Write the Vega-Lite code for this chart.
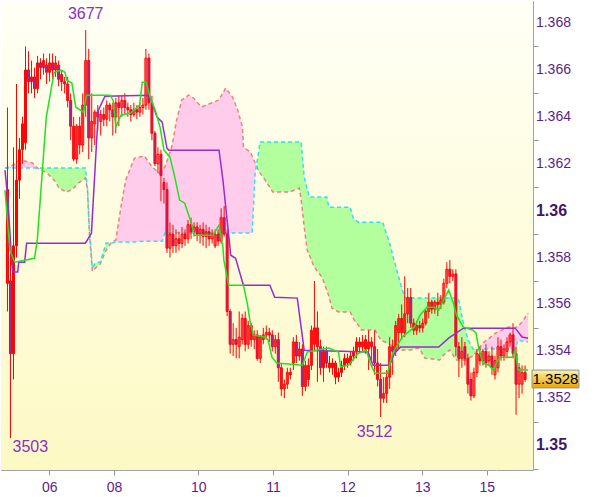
{
"$schema":"https://vega.github.io/schema/vega-lite/v6.json",
"width":532,"height":469,
"autosize":{"type":"none"},
"padding":{"left":1,"top":1,"right":67,"bottom":27},
"background":"#ffffff",
"config":{"view":{"stroke":"#9aa3ab","strokeWidth":1},"font":"Liberation Sans"},
"datasets":{
"candles":[
{"bar":0,"o":1.3609,"h":1.3644,"l":1.3557,"c":1.3569},
{"bar":1,"o":1.3570,"h":1.3583,"l":1.3503,"c":1.3539},
{"bar":2,"o":1.3539,"h":1.3627,"l":1.3528,"c":1.3585},
{"bar":3,"o":1.3585,"h":1.3654,"l":1.3580,"c":1.3613},
{"bar":4,"o":1.3613,"h":1.3631,"l":1.3605,"c":1.3626},
{"bar":5,"o":1.3626,"h":1.3640,"l":1.3620,"c":1.3637},
{"bar":6,"o":1.3629,"h":1.3670,"l":1.3626,"c":1.3660},
{"bar":7,"o":1.3660,"h":1.3668,"l":1.3650,"c":1.3655},
{"bar":8,"o":1.3655,"h":1.3664,"l":1.3650,"c":1.3657},
{"bar":9,"o":1.3657,"h":1.3661,"l":1.3648,"c":1.3652},
{"bar":10,"o":1.3652,"h":1.3666,"l":1.3650,"c":1.3663},
{"bar":11,"o":1.3663,"h":1.3665,"l":1.3656,"c":1.3661},
{"bar":12,"o":1.3661,"h":1.3667,"l":1.3658,"c":1.3664},
{"bar":13,"o":1.3662,"h":1.3665,"l":1.3654,"c":1.3659},
{"bar":14,"o":1.3659,"h":1.3667,"l":1.3655,"c":1.3663},
{"bar":15,"o":1.3663,"h":1.3667,"l":1.3656,"c":1.3660},
{"bar":16,"o":1.3660,"h":1.3666,"l":1.3657,"c":1.3663},
{"bar":17,"o":1.3662,"h":1.3664,"l":1.3653,"c":1.3656},
{"bar":18,"o":1.3658,"h":1.3660,"l":1.3651,"c":1.3655},
{"bar":19,"o":1.3655,"h":1.3657,"l":1.3650,"c":1.3654},
{"bar":20,"o":1.3654,"h":1.3657,"l":1.3644,"c":1.3647},
{"bar":21,"o":1.3647,"h":1.3650,"l":1.3630,"c":1.3636},
{"bar":22,"o":1.3636,"h":1.3640,"l":1.3621,"c":1.3622},
{"bar":23,"o":1.3622,"h":1.3637,"l":1.3620,"c":1.3636},
{"bar":24,"o":1.3636,"h":1.3640,"l":1.3624,"c":1.3628},
{"bar":25,"o":1.3628,"h":1.3650,"l":1.3625,"c":1.3645},
{"bar":26,"o":1.3645,"h":1.3677,"l":1.3640,"c":1.3664},
{"bar":27,"o":1.3664,"h":1.3669,"l":1.3622,"c":1.3631},
{"bar":28,"o":1.3631,"h":1.3650,"l":1.3625,"c":1.3638},
{"bar":29,"o":1.3637,"h":1.3643,"l":1.3628,"c":1.3642},
{"bar":30,"o":1.3642,"h":1.3645,"l":1.3634,"c":1.3640},
{"bar":31,"o":1.3638,"h":1.3643,"l":1.3632,"c":1.3641},
{"bar":32,"o":1.3641,"h":1.3644,"l":1.3636,"c":1.3639},
{"bar":33,"o":1.3639,"h":1.3647,"l":1.3636,"c":1.3645},
{"bar":34,"o":1.3645,"h":1.3646,"l":1.3638,"c":1.3643},
{"bar":35,"o":1.3643,"h":1.3646,"l":1.3632,"c":1.3640},
{"bar":36,"o":1.3640,"h":1.3648,"l":1.3633,"c":1.3646},
{"bar":37,"o":1.3646,"h":1.3649,"l":1.3636,"c":1.3644},
{"bar":38,"o":1.3644,"h":1.3649,"l":1.3640,"c":1.3647},
{"bar":39,"o":1.3647,"h":1.3650,"l":1.3641,"c":1.3644},
{"bar":40,"o":1.3644,"h":1.3646,"l":1.3640,"c":1.3643},
{"bar":41,"o":1.3643,"h":1.3645,"l":1.3638,"c":1.3641},
{"bar":42,"o":1.3641,"h":1.3646,"l":1.3640,"c":1.3643},
{"bar":43,"o":1.3643,"h":1.3645,"l":1.3639,"c":1.3642},
{"bar":44,"o":1.3642,"h":1.3646,"l":1.3640,"c":1.3644},
{"bar":45,"o":1.3644,"h":1.3648,"l":1.3641,"c":1.3645},
{"bar":46,"o":1.3645,"h":1.3669,"l":1.3643,"c":1.3665},
{"bar":47,"o":1.3665,"h":1.3667,"l":1.3643,"c":1.3646},
{"bar":48,"o":1.3646,"h":1.3649,"l":1.3630,"c":1.3633},
{"bar":49,"o":1.3633,"h":1.3634,"l":1.3619,"c":1.3620},
{"bar":50,"o":1.3620,"h":1.3627,"l":1.3616,"c":1.3624},
{"bar":51,"o":1.3624,"h":1.3626,"l":1.3604,"c":1.3615},
{"bar":52,"o":1.3612,"h":1.3614,"l":1.3603,"c":1.3609},
{"bar":53,"o":1.3609,"h":1.3612,"l":1.3582,"c":1.3584},
{"bar":54,"o":1.3584,"h":1.3595,"l":1.3580,"c":1.3590},
{"bar":55,"o":1.3590,"h":1.3594,"l":1.3582,"c":1.3585},
{"bar":56,"o":1.3585,"h":1.3592,"l":1.3582,"c":1.3588},
{"bar":57,"o":1.3588,"h":1.3591,"l":1.3583,"c":1.3586},
{"bar":58,"o":1.3586,"h":1.3593,"l":1.3584,"c":1.3590},
{"bar":59,"o":1.3590,"h":1.3592,"l":1.3585,"c":1.3588},
{"bar":60,"o":1.3588,"h":1.3596,"l":1.3586,"c":1.3594},
{"bar":61,"o":1.3594,"h":1.3597,"l":1.3588,"c":1.3591},
{"bar":62,"o":1.3591,"h":1.3595,"l":1.3589,"c":1.3593},
{"bar":63,"o":1.3593,"h":1.3595,"l":1.3587,"c":1.3590},
{"bar":64,"o":1.3590,"h":1.3594,"l":1.3586,"c":1.3592},
{"bar":65,"o":1.3592,"h":1.3595,"l":1.3585,"c":1.3589},
{"bar":66,"o":1.3589,"h":1.3594,"l":1.3584,"c":1.3591},
{"bar":67,"o":1.3591,"h":1.3593,"l":1.3585,"c":1.3588},
{"bar":68,"o":1.3588,"h":1.3592,"l":1.3586,"c":1.3590},
{"bar":69,"o":1.3585,"h":1.3592,"l":1.3584,"c":1.3590},
{"bar":70,"o":1.3590,"h":1.3592,"l":1.3585,"c":1.3587},
{"bar":71,"o":1.3587,"h":1.3601,"l":1.3586,"c":1.3597},
{"bar":72,"o":1.3597,"h":1.3602,"l":1.3589,"c":1.3590},
{"bar":73,"o":1.3590,"h":1.3592,"l":1.3555,"c":1.3557},
{"bar":74,"o":1.3557,"h":1.3558,"l":1.3539,"c":1.3543},
{"bar":75,"o":1.3543,"h":1.3552,"l":1.3538,"c":1.3545},
{"bar":76,"o":1.3545,"h":1.3550,"l":1.3537,"c":1.3543},
{"bar":77,"o":1.3542,"h":1.3557,"l":1.3537,"c":1.3546},
{"bar":78,"o":1.3545,"h":1.3556,"l":1.3543,"c":1.3554},
{"bar":79,"o":1.3554,"h":1.3557,"l":1.3540,"c":1.3543},
{"bar":80,"o":1.3543,"h":1.3553,"l":1.3541,"c":1.3551},
{"bar":81,"o":1.3551,"h":1.3552,"l":1.3542,"c":1.3545},
{"bar":82,"o":1.3545,"h":1.3549,"l":1.3541,"c":1.3547},
{"bar":83,"o":1.3547,"h":1.3549,"l":1.3536,"c":1.3537},
{"bar":84,"o":1.3537,"h":1.3547,"l":1.3535,"c":1.3546},
{"bar":85,"o":1.3545,"h":1.3550,"l":1.3543,"c":1.3547},
{"bar":86,"o":1.3547,"h":1.3551,"l":1.3545,"c":1.3548},
{"bar":87,"o":1.3548,"h":1.3550,"l":1.3544,"c":1.3547},
{"bar":88,"o":1.3547,"h":1.3549,"l":1.3540,"c":1.3542},
{"bar":89,"o":1.3542,"h":1.3547,"l":1.3539,"c":1.3545},
{"bar":90,"o":1.3545,"h":1.3548,"l":1.3527,"c":1.3533},
{"bar":91,"o":1.3533,"h":1.3535,"l":1.3521,"c":1.3524},
{"bar":92,"o":1.3524,"h":1.3528,"l":1.3520,"c":1.3526},
{"bar":93,"o":1.3526,"h":1.3533,"l":1.3524,"c":1.3531},
{"bar":94,"o":1.3531,"h":1.3533,"l":1.3528,"c":1.3530},
{"bar":95,"o":1.3535,"h":1.3546,"l":1.3532,"c":1.3544},
{"bar":96,"o":1.3544,"h":1.3547,"l":1.3535,"c":1.3538},
{"bar":97,"o":1.3538,"h":1.3544,"l":1.3536,"c":1.3541},
{"bar":98,"o":1.3541,"h":1.3543,"l":1.3521,"c":1.3525},
{"bar":99,"o":1.3525,"h":1.3536,"l":1.3523,"c":1.3534},
{"bar":100,"o":1.3528,"h":1.3537,"l":1.3525,"c":1.3534},
{"bar":101,"o":1.3534,"h":1.3551,"l":1.3532,"c":1.3549},
{"bar":102,"o":1.3543,"h":1.3570,"l":1.3540,"c":1.3550},
{"bar":103,"o":1.3550,"h":1.3557,"l":1.3527,"c":1.3542},
{"bar":104,"o":1.3542,"h":1.3545,"l":1.3530,"c":1.3533},
{"bar":105,"o":1.3533,"h":1.3542,"l":1.3527,"c":1.3540},
{"bar":106,"o":1.3540,"h":1.3542,"l":1.3533,"c":1.3535},
{"bar":107,"o":1.3535,"h":1.3538,"l":1.3531,"c":1.3533},
{"bar":108,"o":1.3533,"h":1.3537,"l":1.3530,"c":1.3535},
{"bar":109,"o":1.3535,"h":1.3536,"l":1.3526,"c":1.3529},
{"bar":110,"o":1.3529,"h":1.3533,"l":1.3527,"c":1.3531},
{"bar":111,"o":1.3531,"h":1.3536,"l":1.3529,"c":1.3534},
{"bar":112,"o":1.3534,"h":1.3539,"l":1.3532,"c":1.3537},
{"bar":113,"o":1.3537,"h":1.3539,"l":1.3533,"c":1.3535},
{"bar":114,"o":1.3535,"h":1.3540,"l":1.3534,"c":1.3538},
{"bar":115,"o":1.3538,"h":1.3542,"l":1.3536,"c":1.3540},
{"bar":116,"o":1.3540,"h":1.3546,"l":1.3537,"c":1.3544},
{"bar":117,"o":1.3544,"h":1.3546,"l":1.3540,"c":1.3542},
{"bar":118,"o":1.3542,"h":1.3547,"l":1.3540,"c":1.3544},
{"bar":119,"o":1.3545,"h":1.3547,"l":1.3539,"c":1.3541},
{"bar":120,"o":1.3541,"h":1.3549,"l":1.3532,"c":1.3544},
{"bar":121,"o":1.3544,"h":1.3546,"l":1.3536,"c":1.3542},
{"bar":122,"o":1.3542,"h":1.3549,"l":1.3530,"c":1.3535},
{"bar":123,"o":1.3535,"h":1.3541,"l":1.3525,"c":1.3528},
{"bar":124,"o":1.3528,"h":1.3535,"l":1.3512,"c":1.3520},
{"bar":125,"o":1.3520,"h":1.3529,"l":1.3518,"c":1.3522},
{"bar":126,"o":1.3522,"h":1.3532,"l":1.3518,"c":1.3529},
{"bar":127,"o":1.3529,"h":1.3546,"l":1.3524,"c":1.3542},
{"bar":128,"o":1.3542,"h":1.3545,"l":1.3530,"c":1.3540},
{"bar":129,"o":1.3540,"h":1.3553,"l":1.3538,"c":1.3551},
{"bar":130,"o":1.3548,"h":1.3556,"l":1.3541,"c":1.3554},
{"bar":131,"o":1.3554,"h":1.3560,"l":1.3545,"c":1.3548},
{"bar":132,"o":1.3548,"h":1.3572,"l":1.3546,"c":1.3556},
{"bar":133,"o":1.3556,"h":1.3567,"l":1.3552,"c":1.3563},
{"bar":134,"o":1.3563,"h":1.3567,"l":1.3550,"c":1.3552},
{"bar":135,"o":1.3552,"h":1.3554,"l":1.3547,"c":1.3549},
{"bar":136,"o":1.3549,"h":1.3553,"l":1.3547,"c":1.3551},
{"bar":137,"o":1.3551,"h":1.3553,"l":1.3548,"c":1.3550},
{"bar":138,"o":1.3550,"h":1.3554,"l":1.3548,"c":1.3552},
{"bar":139,"o":1.3552,"h":1.3558,"l":1.3551,"c":1.3557},
{"bar":140,"o":1.3557,"h":1.3565,"l":1.3554,"c":1.3561},
{"bar":141,"o":1.3561,"h":1.3562,"l":1.3556,"c":1.3558},
{"bar":142,"o":1.3558,"h":1.3562,"l":1.3556,"c":1.3561},
{"bar":143,"o":1.3561,"h":1.3565,"l":1.3555,"c":1.3560},
{"bar":144,"o":1.3560,"h":1.3564,"l":1.3558,"c":1.3562},
{"bar":145,"o":1.3561,"h":1.3571,"l":1.3560,"c":1.3569},
{"bar":146,"o":1.3569,"h":1.3578,"l":1.3567,"c":1.3575},
{"bar":147,"o":1.3575,"h":1.3579,"l":1.3569,"c":1.3572},
{"bar":148,"o":1.3572,"h":1.3575,"l":1.3570,"c":1.3573},
{"bar":149,"o":1.3573,"h":1.3575,"l":1.3538,"c":1.3542},
{"bar":150,"o":1.3542,"h":1.3544,"l":1.3529,"c":1.3537},
{"bar":151,"o":1.3537,"h":1.3546,"l":1.3533,"c":1.3540},
{"bar":152,"o":1.3542,"h":1.3544,"l":1.3534,"c":1.3537},
{"bar":153,"o":1.3537,"h":1.3539,"l":1.3522,"c":1.3526},
{"bar":154,"o":1.3528,"h":1.3531,"l":1.3519,"c":1.3521},
{"bar":155,"o":1.3521,"h":1.3533,"l":1.3520,"c":1.3531},
{"bar":156,"o":1.3531,"h":1.3541,"l":1.3529,"c":1.3539},
{"bar":157,"o":1.3539,"h":1.3542,"l":1.3534,"c":1.3536},
{"bar":158,"o":1.3536,"h":1.3541,"l":1.3534,"c":1.3540},
{"bar":159,"o":1.3540,"h":1.3543,"l":1.3533,"c":1.3535},
{"bar":160,"o":1.3536,"h":1.3540,"l":1.3534,"c":1.3538},
{"bar":161,"o":1.3538,"h":1.3542,"l":1.3530,"c":1.3533},
{"bar":162,"o":1.3530,"h":1.3538,"l":1.3528,"c":1.3536},
{"bar":163,"o":1.3533,"h":1.3546,"l":1.3531,"c":1.3542},
{"bar":164,"o":1.3542,"h":1.3545,"l":1.3536,"c":1.3538},
{"bar":165,"o":1.3538,"h":1.3543,"l":1.3536,"c":1.3541},
{"bar":166,"o":1.3540,"h":1.3546,"l":1.3537,"c":1.3544},
{"bar":167,"o":1.3544,"h":1.3548,"l":1.3542,"c":1.3547},
{"bar":168,"o":1.3547,"h":1.3552,"l":1.3537,"c":1.3539},
{"bar":169,"o":1.3539,"h":1.3542,"l":1.3513,"c":1.3526},
{"bar":170,"o":1.3526,"h":1.3535,"l":1.3520,"c":1.3533},
{"bar":171,"o":1.3526,"h":1.3534,"l":1.3522,"c":1.3531},
{"bar":172,"o":1.3531,"h":1.3534,"l":1.3527,"c":1.3528}
],
"kijun":[
{"bar":-0.82,"price":1.36173},{"bar":0.16,"price":1.36045},{"bar":1.47,"price":1.35768},{"bar":1.8,"price":1.35738},{"bar":3.4,"price":1.35738},{"bar":3.75,"price":1.35780},{"bar":5.7,"price":1.35780},{"bar":6.36,"price":1.35861},{"bar":25.9,"price":1.35861},{"bar":27.9,"price":1.35904},{"bar":30.2,"price":1.36428},{"bar":32.4,"price":1.36488},{"bar":47.1,"price":1.36492},{"bar":49.7,"price":1.36399},{"bar":51.4,"price":1.36377},{"bar":53.0,"price":1.36266},{"bar":53.6,"price":1.36258},{"bar":70.3,"price":1.36258},{"bar":71.6,"price":1.36130},{"bar":74.2,"price":1.35810},{"bar":75.8,"price":1.35797},{"bar":78.4,"price":1.35682},{"bar":87.2,"price":1.35682},{"bar":88.8,"price":1.35631},{"bar":96.3,"price":1.35627},{"bar":98.6,"price":1.35405},{"bar":119.8,"price":1.35397},{"bar":121.5,"price":1.35341},{"bar":127.0,"price":1.35341},{"bar":128.6,"price":1.35392},{"bar":130.6,"price":1.35418},{"bar":143.3,"price":1.35418},{"bar":146.6,"price":1.35456},{"bar":151.5,"price":1.35499},{"bar":168.7,"price":1.35499},{"bar":171.0,"price":1.35461},{"bar":173.0,"price":1.35456}
],
"tenkan":[
{"bar":-0.82,"price":1.36087},{"bar":0.8,"price":1.35831},{"bar":2.4,"price":1.35780},{"bar":9.0,"price":1.35797},{"bar":9.9,"price":1.35874},{"bar":12.9,"price":1.36399},{"bar":15.5,"price":1.36590},{"bar":17.8,"price":1.36599},{"bar":19.1,"price":1.36590},{"bar":19.7,"price":1.36556},{"bar":21.4,"price":1.36544},{"bar":22.7,"price":1.36441},{"bar":25.3,"price":1.36420},{"bar":26.2,"price":1.36492},{"bar":34.1,"price":1.36492},{"bar":35.1,"price":1.36471},{"bar":36.0,"price":1.36356},{"bar":37.7,"price":1.36407},{"bar":40.9,"price":1.36416},{"bar":43.9,"price":1.36450},{"bar":44.8,"price":1.36548},{"bar":46.1,"price":1.36548},{"bar":47.4,"price":1.36484},{"bar":49.1,"price":1.36428},{"bar":50.7,"price":1.36356},{"bar":52.0,"price":1.36258},{"bar":54.0,"price":1.36228},{"bar":55.6,"price":1.36143},{"bar":57.2,"price":1.36045},{"bar":58.9,"price":1.36032},{"bar":61.1,"price":1.35947},{"bar":62.1,"price":1.35895},{"bar":68.3,"price":1.35895},{"bar":69.3,"price":1.35917},{"bar":70.3,"price":1.35938},{"bar":71.6,"price":1.35844},{"bar":71.9,"price":1.35789},{"bar":73.5,"price":1.35682},{"bar":78.4,"price":1.35682},{"bar":79.7,"price":1.35605},{"bar":80.7,"price":1.35520},{"bar":81.7,"price":1.35469},{"bar":85.6,"price":1.35461},{"bar":86.6,"price":1.35448},{"bar":87.9,"price":1.35375},{"bar":89.5,"price":1.35350},{"bar":98.0,"price":1.35341},{"bar":99.6,"price":1.35397},{"bar":102.5,"price":1.35405},{"bar":106.8,"price":1.35414},{"bar":110.0,"price":1.35397},{"bar":110.7,"price":1.35333},{"bar":113.3,"price":1.35341},{"bar":116.6,"price":1.35392},{"bar":119.2,"price":1.35405},{"bar":120.8,"price":1.35341},{"bar":122.1,"price":1.35307},{"bar":126.3,"price":1.35307},{"bar":128.0,"price":1.35392},{"bar":131.2,"price":1.35461},{"bar":135.2,"price":1.35503},{"bar":137.1,"price":1.35554},{"bar":139.4,"price":1.35588},{"bar":141.7,"price":1.35588},{"bar":143.3,"price":1.35576},{"bar":144.9,"price":1.35618},{"bar":146.6,"price":1.35661},{"bar":148.2,"price":1.35605},{"bar":149.2,"price":1.35554},{"bar":151.5,"price":1.35503},{"bar":154.7,"price":1.35490},{"bar":155.7,"price":1.35478},{"bar":156.7,"price":1.35405},{"bar":158.0,"price":1.35350},{"bar":159.9,"price":1.35341},{"bar":161.6,"price":1.35320},{"bar":162.9,"price":1.35362},{"bar":163.8,"price":1.35375},{"bar":167.8,"price":1.35375},{"bar":168.7,"price":1.35405},{"bar":169.7,"price":1.35320},{"bar":173.0,"price":1.35320}
],
"cloud":[
{"bar":-0.82,"a":1.36182,"b":1.36182,"seg":1,"cloud":"down"},
{"bar":0.82,"a":1.36182,"b":1.36186,"seg":1,"cloud":"down"},
{"bar":2.45,"a":1.36182,"b":1.36199,"seg":1,"cloud":"down"},
{"bar":4.08,"a":1.36182,"b":1.36216,"seg":1,"cloud":"down"},
{"bar":5.71,"a":1.36182,"b":1.36212,"seg":1,"cloud":"down"},
{"bar":8.31,"a":1.36182,"b":1.36203,"seg":1,"cloud":"down"},
{"bar":9.94,"a":1.36182,"b":1.36182,"seg":1,"cloud":"down"},
{"bar":9.94,"a":1.36182,"b":1.36182,"seg":2,"cloud":"up"},
{"bar":13.2,"a":1.36182,"b":1.36160,"seg":2,"cloud":"up"},
{"bar":16.1,"a":1.36182,"b":1.36122,"seg":2,"cloud":"up"},
{"bar":17.1,"a":1.36182,"b":1.36096,"seg":2,"cloud":"up"},
{"bar":19.7,"a":1.36182,"b":1.36079,"seg":2,"cloud":"up"},
{"bar":22.0,"a":1.36182,"b":1.36096,"seg":2,"cloud":"up"},
{"bar":23.6,"a":1.36182,"b":1.36118,"seg":2,"cloud":"up"},
{"bar":25.9,"a":1.36182,"b":1.36139,"seg":2,"cloud":"up"},
{"bar":26.6,"a":1.36092,"b":1.36088,"seg":2,"cloud":"up"},
{"bar":27.2,"a":1.35926,"b":1.35909,"seg":2,"cloud":"up"},
{"bar":28.2,"a":1.35755,"b":1.35742,"seg":2,"cloud":"up"},
{"bar":29.2,"a":1.35777,"b":1.35755,"seg":2,"cloud":"up"},
{"bar":30.8,"a":1.35781,"b":1.35772,"seg":2,"cloud":"up"},
{"bar":32.8,"a":1.35862,"b":1.35832,"seg":2,"cloud":"up"},
{"bar":34.4,"a":1.35862,"b":1.35862,"seg":2,"cloud":"up"},
{"bar":34.4,"a":1.35862,"b":1.35862,"seg":3,"cloud":"down"},
{"bar":36.0,"a":1.35866,"b":1.35875,"seg":3,"cloud":"down"},
{"bar":37.7,"a":1.35866,"b":1.36015,"seg":3,"cloud":"down"},
{"bar":39.3,"a":1.35866,"b":1.36131,"seg":3,"cloud":"down"},
{"bar":42.2,"a":1.35866,"b":1.36224,"seg":3,"cloud":"down"},
{"bar":45.5,"a":1.35870,"b":1.36233,"seg":3,"cloud":"down"},
{"bar":48.1,"a":1.35870,"b":1.36186,"seg":3,"cloud":"down"},
{"bar":50.4,"a":1.35870,"b":1.36160,"seg":3,"cloud":"down"},
{"bar":51.4,"a":1.35870,"b":1.36173,"seg":3,"cloud":"down"},
{"bar":52.3,"a":1.35905,"b":1.36186,"seg":3,"cloud":"down"},
{"bar":54.6,"a":1.35905,"b":1.36271,"seg":3,"cloud":"down"},
{"bar":56.2,"a":1.35905,"b":1.36386,"seg":3,"cloud":"down"},
{"bar":57.9,"a":1.35905,"b":1.36472,"seg":3,"cloud":"down"},
{"bar":60.2,"a":1.35905,"b":1.36493,"seg":3,"cloud":"down"},
{"bar":61.8,"a":1.35905,"b":1.36480,"seg":3,"cloud":"down"},
{"bar":64.4,"a":1.35905,"b":1.36442,"seg":3,"cloud":"down"},
{"bar":68.6,"a":1.35905,"b":1.36463,"seg":3,"cloud":"down"},
{"bar":70.3,"a":1.35905,"b":1.36472,"seg":3,"cloud":"down"},
{"bar":72.5,"a":1.35905,"b":1.36523,"seg":3,"cloud":"down"},
{"bar":74.8,"a":1.35905,"b":1.36484,"seg":3,"cloud":"down"},
{"bar":76.5,"a":1.35905,"b":1.36429,"seg":3,"cloud":"down"},
{"bar":78.1,"a":1.35905,"b":1.36356,"seg":3,"cloud":"down"},
{"bar":78.4,"a":1.35905,"b":1.36271,"seg":3,"cloud":"down"},
{"bar":80.7,"a":1.35905,"b":1.36250,"seg":3,"cloud":"down"},
{"bar":81.3,"a":1.35905,"b":1.36233,"seg":3,"cloud":"down"},
{"bar":82.3,"a":1.36160,"b":1.36203,"seg":3,"cloud":"down"},
{"bar":82.7,"a":1.36192,"b":1.36192,"seg":3,"cloud":"down"},
{"bar":82.7,"a":1.36192,"b":1.36192,"seg":4,"cloud":"up"},
{"bar":83.3,"a":1.36237,"b":1.36173,"seg":4,"cloud":"up"},
{"bar":83.96,"a":1.36293,"b":1.36160,"seg":4,"cloud":"up"},
{"bar":85.6,"a":1.36293,"b":1.36131,"seg":4,"cloud":"up"},
{"bar":88.2,"a":1.36293,"b":1.36079,"seg":4,"cloud":"up"},
{"bar":93.7,"a":1.36293,"b":1.36079,"seg":4,"cloud":"up"},
{"bar":97.0,"a":1.36293,"b":1.36096,"seg":4,"cloud":"up"},
{"bar":97.6,"a":1.36293,"b":1.36045,"seg":4,"cloud":"up"},
{"bar":98.6,"a":1.36143,"b":1.35930,"seg":4,"cloud":"up"},
{"bar":99.6,"a":1.36092,"b":1.35832,"seg":4,"cloud":"up"},
{"bar":100.3,"a":1.36058,"b":1.35811,"seg":4,"cloud":"up"},
{"bar":101.9,"a":1.36058,"b":1.35760,"seg":4,"cloud":"up"},
{"bar":104.5,"a":1.36058,"b":1.35717,"seg":4,"cloud":"up"},
{"bar":106.1,"a":1.36058,"b":1.35661,"seg":4,"cloud":"up"},
{"bar":106.8,"a":1.36015,"b":1.35636,"seg":4,"cloud":"up"},
{"bar":107.8,"a":1.36015,"b":1.35585,"seg":4,"cloud":"up"},
{"bar":110.0,"a":1.36015,"b":1.35568,"seg":4,"cloud":"up"},
{"bar":113.9,"a":1.36015,"b":1.35568,"seg":4,"cloud":"up"},
{"bar":114.9,"a":1.35968,"b":1.35542,"seg":4,"cloud":"up"},
{"bar":115.6,"a":1.35960,"b":1.35525,"seg":4,"cloud":"up"},
{"bar":116.6,"a":1.35951,"b":1.35512,"seg":4,"cloud":"up"},
{"bar":117.6,"a":1.35951,"b":1.35491,"seg":4,"cloud":"up"},
{"bar":122.1,"a":1.35951,"b":1.35491,"seg":4,"cloud":"up"},
{"bar":124.1,"a":1.35951,"b":1.35448,"seg":4,"cloud":"up"},
{"bar":124.7,"a":1.35951,"b":1.35444,"seg":4,"cloud":"up"},
{"bar":126.3,"a":1.35887,"b":1.35435,"seg":4,"cloud":"up"},
{"bar":127.3,"a":1.35849,"b":1.35427,"seg":4,"cloud":"up"},
{"bar":128.0,"a":1.35811,"b":1.35423,"seg":4,"cloud":"up"},
{"bar":131.2,"a":1.35661,"b":1.35406,"seg":4,"cloud":"up"},
{"bar":132.2,"a":1.35627,"b":1.35406,"seg":4,"cloud":"up"},
{"bar":133.8,"a":1.35627,"b":1.35406,"seg":4,"cloud":"up"},
{"bar":136.8,"a":1.35627,"b":1.35414,"seg":4,"cloud":"up"},
{"bar":138.7,"a":1.35627,"b":1.35371,"seg":4,"cloud":"up"},
{"bar":143.6,"a":1.35627,"b":1.35363,"seg":4,"cloud":"up"},
{"bar":144.9,"a":1.35627,"b":1.35384,"seg":4,"cloud":"up"},
{"bar":146.9,"a":1.35627,"b":1.35406,"seg":4,"cloud":"up"},
{"bar":149.2,"a":1.35627,"b":1.35363,"seg":4,"cloud":"up"},
{"bar":149.8,"a":1.35627,"b":1.35363,"seg":4,"cloud":"up"},
{"bar":151.5,"a":1.35521,"b":1.35363,"seg":4,"cloud":"up"},
{"bar":152.4,"a":1.35478,"b":1.35363,"seg":4,"cloud":"up"},
{"bar":153.1,"a":1.35448,"b":1.35371,"seg":4,"cloud":"up"},
{"bar":154.7,"a":1.35410,"b":1.35380,"seg":4,"cloud":"up"},
{"bar":156.3,"a":1.35408,"b":1.35408,"seg":4,"cloud":"up"},
{"bar":156.3,"a":1.35408,"b":1.35408,"seg":5,"cloud":"down"},
{"bar":158.0,"a":1.35410,"b":1.35435,"seg":5,"cloud":"down"},
{"bar":162.2,"a":1.35410,"b":1.35478,"seg":5,"cloud":"down"},
{"bar":166.5,"a":1.35410,"b":1.35504,"seg":5,"cloud":"down"},
{"bar":168.7,"a":1.35410,"b":1.35500,"seg":5,"cloud":"down"},
{"bar":169.7,"a":1.35448,"b":1.35508,"seg":5,"cloud":"down"},
{"bar":171.0,"a":1.35444,"b":1.35525,"seg":5,"cloud":"down"},
{"bar":173.0,"a":1.35440,"b":1.35563,"seg":5,"cloud":"down"}
],
"ylabels":[
{"price":1.352,"label":"1.352","major":false},{"price":1.354,"label":"1.354","major":false},{"price":1.356,"label":"1.356","major":false},{"price":1.358,"label":"1.358","major":false},
{"price":1.362,"label":"1.362","major":false},{"price":1.364,"label":"1.364","major":false},{"price":1.366,"label":"1.366","major":false},{"price":1.368,"label":"1.368","major":false},
{"price":1.35,"label":"1.35","major":true},{"price":1.36,"label":"1.36","major":true}
]
},
"layer":[
{"data":{"values":[{"bg":1}]},
 "mark":{"type":"rect","fill":{"gradient":"linear","x1":0,"y1":0,"x2":0,"y2":1,"stops":[{"offset":0,"color":"#fffff6"},{"offset":1,"color":"#fdf9c4"}]}},
 "encoding":{}},
{"data":{"name":"cloud"},
 "mark":{"type":"area","clip":true},
 "encoding":{
  "x":{"field":"bar","type":"quantitative","scale":{"domain":[-0.49,172.97],"nice":false,"zero":false},"title":null,
   "axis":{"orient":"bottom","values":[13.86,35.4,38.6,63.4,88.2,113.0,137.8,159.3,162.5],
    "labelExpr":"datum.value<20?'06':datum.value<37?'08':datum.value<40?'':datum.value<70?'10':datum.value<100?'11':datum.value<120?'12':datum.value<150?'13':datum.value<161?'15':''",
    "grid":true,"gridColor":"#e0dfc4","gridWidth":1,"domain":false,"tickColor":"#8c969e","tickSize":5,
    "tickOpacity":{"condition":{"test":"datum.value==38.6||datum.value==162.5","value":0},"value":1},
    "labelColor":"#5b1e8c","labelFontSize":14,"labelFont":"Liberation Sans","labelPadding":5,"labelOverlap":false,"labelFlush":false}},
  "y":{"field":"a","type":"quantitative","scale":{"domain":[1.34894,1.36894],"nice":false,"zero":false},"title":null,
   "axis":{"orient":"right","values":[1.349,1.35,1.351,1.352,1.353,1.354,1.355,1.356,1.357,1.358,1.359,1.36,1.361,1.362,1.363,1.364,1.365,1.366,1.367,1.368],
    "labels":false,
    "grid":true,"gridColor":"#e0dfc4","gridWidth":1,
    "gridOpacity":{"condition":{"test":"round(datum.value*1000)%2!=0","value":0},"value":1},
    "domain":false,"tickColor":"#8c969e","tickSize":5}},
  "y2":{"field":"b"},
  "color":{"field":"cloud","type":"nominal","scale":{"domain":["up","down"],"range":["#b3ff9e","#ffcdeb"]},"legend":null},
  "detail":{"field":"seg","type":"nominal"}}},
{"data":{"name":"cloud"},
 "mark":{"type":"line","stroke":"#ef8080","strokeWidth":1.5,"strokeDash":[4,3],"clip":true},
 "encoding":{
  "x":{"field":"bar","type":"quantitative","scale":{"domain":[-0.49,172.97],"nice":false,"zero":false},"title":null},
  "y":{"field":"b","type":"quantitative","scale":{"domain":[1.34894,1.36894],"nice":false,"zero":false},"title":null}}},
{"data":{"name":"cloud"},
 "mark":{"type":"line","stroke":"#30e0f0","strokeWidth":1.5,"strokeDash":[4,3],"clip":true},
 "encoding":{
  "x":{"field":"bar","type":"quantitative","scale":{"domain":[-0.49,172.97],"nice":false,"zero":false},"title":null},
  "y":{"field":"a","type":"quantitative","scale":{"domain":[1.34894,1.36894],"nice":false,"zero":false},"title":null}}},
{"data":{"name":"candles"},
 "mark":{"type":"rule","color":"#ff0000","strokeWidth":1,"clip":true},
 "encoding":{
  "x":{"field":"bar","type":"quantitative","scale":{"domain":[-0.49,172.97],"nice":false,"zero":false},"title":null},
  "y":{"field":"l","type":"quantitative","scale":{"domain":[1.34894,1.36894],"nice":false,"zero":false},"title":null},
  "y2":{"field":"h"}}},
{"data":{"name":"candles"},
 "mark":{"type":"bar","size":2,"stroke":"#ff0000","strokeWidth":1,"clip":true},
 "encoding":{
  "x":{"field":"bar","type":"quantitative","scale":{"domain":[-0.49,172.97],"nice":false,"zero":false},"title":null},
  "y":{"field":"o","type":"quantitative","scale":{"domain":[1.34894,1.36894],"nice":false,"zero":false},"title":null},
  "y2":{"field":"c"},
  "fill":{"condition":{"test":"datum.o > datum.c","value":"#9a2f9e"},"value":"transparent"}}},
{"data":{"name":"kijun"},
 "mark":{"type":"line","stroke":"#9a2bd0","strokeWidth":1.5,"clip":true},
 "encoding":{
  "x":{"field":"bar","type":"quantitative","scale":{"domain":[-0.49,172.97],"nice":false,"zero":false},"title":null},
  "y":{"field":"price","type":"quantitative","scale":{"domain":[1.34894,1.36894],"nice":false,"zero":false},"title":null}}},
{"data":{"name":"tenkan"},
 "mark":{"type":"line","stroke":"#22e022","strokeWidth":1.5,"clip":true},
 "encoding":{
  "x":{"field":"bar","type":"quantitative","scale":{"domain":[-0.49,172.97],"nice":false,"zero":false},"title":null},
  "y":{"field":"price","type":"quantitative","scale":{"domain":[1.34894,1.36894],"nice":false,"zero":false},"title":null}}},
{"data":{"values":[{"bar":26,"price":1.3677,"label":"3677"}]},
 "mark":{"type":"text","dy":-16,"fontSize":16,"color":"#8e2ec8","font":"Liberation Sans"},
 "encoding":{
  "x":{"field":"bar","type":"quantitative","scale":{"domain":[-0.49,172.97],"nice":false,"zero":false},"title":null},
  "y":{"field":"price","type":"quantitative","scale":{"domain":[1.34894,1.36894],"nice":false,"zero":false},"title":null},
  "text":{"field":"label"}}},
{"data":{"values":[{"bar":1,"price":1.3503,"label":"3503"}]},
 "mark":{"type":"text","align":"left","dx":2,"dy":9,"fontSize":16,"color":"#8e2ec8","font":"Liberation Sans"},
 "encoding":{
  "x":{"field":"bar","type":"quantitative","scale":{"domain":[-0.49,172.97],"nice":false,"zero":false},"title":null},
  "y":{"field":"price","type":"quantitative","scale":{"domain":[1.34894,1.36894],"nice":false,"zero":false},"title":null},
  "text":{"field":"label"}}},
{"data":{"values":[{"bar":124,"price":1.3512,"label":"3512"}]},
 "mark":{"type":"text","dx":-6,"dy":15,"fontSize":16,"color":"#8e2ec8","font":"Liberation Sans"},
 "encoding":{
  "x":{"field":"bar","type":"quantitative","scale":{"domain":[-0.49,172.97],"nice":false,"zero":false},"title":null},
  "y":{"field":"price","type":"quantitative","scale":{"domain":[1.34894,1.36894],"nice":false,"zero":false},"title":null},
  "text":{"field":"label"}}},
{"data":{"name":"ylabels"},
 "transform":[{"filter":"!datum.major"}],
 "mark":{"type":"text","align":"left","fontSize":14,"color":"#5b1e8c","font":"Liberation Sans"},
 "encoding":{
  "x":{"datum":175.6,"type":"quantitative","scale":{"domain":[-0.49,172.97],"nice":false,"zero":false},"title":null},
  "y":{"field":"price","type":"quantitative","scale":{"domain":[1.34894,1.36894],"nice":false,"zero":false},"title":null},
  "text":{"field":"label"}}},
{"data":{"name":"ylabels"},
 "transform":[{"filter":"datum.major"}],
 "mark":{"type":"text","align":"left","fontSize":16,"fontWeight":"bold","color":"#3e1866","font":"Liberation Sans"},
 "encoding":{
  "x":{"datum":175.6,"type":"quantitative","scale":{"domain":[-0.49,172.97],"nice":false,"zero":false},"title":null},
  "y":{"field":"price","type":"quantitative","scale":{"domain":[1.34894,1.36894],"nice":false,"zero":false},"title":null},
  "text":{"field":"label"}}},
{"data":{"values":[{"price":1.3528,"label":"1.3528"}]},
 "mark":{"type":"rect","stroke":"#8c969e","strokeWidth":1,"fill":{"gradient":"linear","x1":0,"y1":0,"x2":0,"y2":1,"stops":[{"offset":0,"color":"#fff3a0"},{"offset":1,"color":"#e6a400"}]}},
 "encoding":{
  "x":{"datum":174.3,"type":"quantitative","scale":{"domain":[-0.49,172.97],"nice":false,"zero":false},"title":null},
  "x2":{"datum":189.9},
  "y":{"datum":1.3532,"type":"quantitative","scale":{"domain":[1.34894,1.36894],"nice":false,"zero":false},"title":null},
  "y2":{"datum":1.35244}}},
{"data":{"values":[{"price":1.3528,"label":"1.3528"}]},
 "mark":{"type":"text","fontSize":15,"color":"#000000","font":"Liberation Sans"},
 "encoding":{
  "x":{"datum":182.1,"type":"quantitative","scale":{"domain":[-0.49,172.97],"nice":false,"zero":false},"title":null},
  "y":{"field":"price","type":"quantitative","scale":{"domain":[1.34894,1.36894],"nice":false,"zero":false},"title":null},
  "text":{"field":"label"}}}
]
}
